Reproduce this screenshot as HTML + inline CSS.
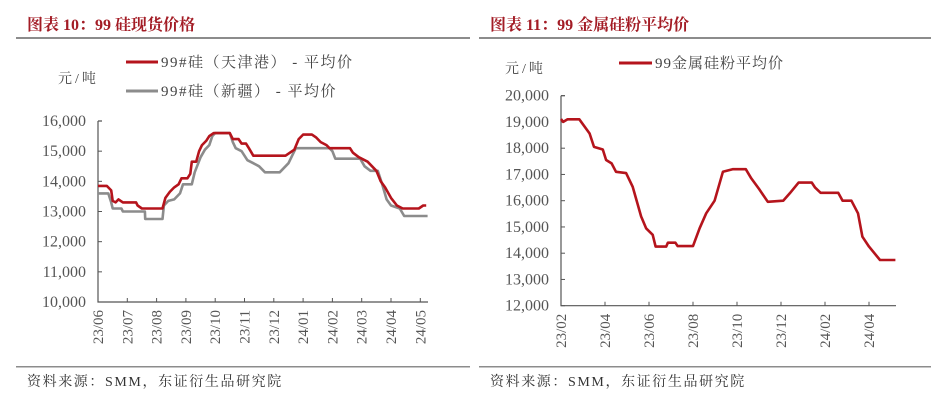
<!DOCTYPE html>
<html><head><meta charset="utf-8">
<style>
html,body{margin:0;padding:0;background:#fff;}
svg{display:block;font-family:"Liberation Serif","Noto Serif CJK SC",serif;}
</style></head>
<body>
<svg id="root" width="940" height="402" viewBox="0 0 940 402">
  <g>
    <text x="27" y="30" font-size="16" font-weight="bold" fill="#a31c25">图表 10：99 硅现货价格</text>
    <rect x="16" y="37" width="454" height="2" fill="#8c8c8c"/>
  </g>
  <g>
    <text x="490" y="30" font-size="16" font-weight="bold" fill="#a31c25">图表 11：99 金属硅粉平均价</text>
    <rect x="479" y="37" width="452" height="2" fill="#8c8c8c"/>
  </g>
  <g>
    <line x1="126" y1="62" x2="158" y2="62" stroke="#b5141c" stroke-width="3"/>
    <text x="161" y="67" font-size="15" letter-spacing="1.5" fill="#444">99#硅（天津港） - 平均价</text>
    <line x1="126" y1="91" x2="158" y2="91" stroke="#8c8c8c" stroke-width="3"/>
    <text x="161" y="96" font-size="15" letter-spacing="1.5" fill="#444">99#硅（新疆） - 平均价</text>
    <text x="58" y="83" font-size="14" letter-spacing="3" fill="#444">元/吨</text>
  </g>
  <g>
    <line x1="619" y1="63" x2="652" y2="63" stroke="#b5141c" stroke-width="3"/>
    <text x="655" y="68" font-size="15" letter-spacing="1" fill="#444">99金属硅粉平均价</text>
    <text x="505" y="73" font-size="14" letter-spacing="3" fill="#444">元/吨</text>
  </g>
  <g id="left"></g>
  <g id="right"></g>
  <rect x="16" y="366" width="454" height="1.5" fill="#8c8c8c"/>
  <rect x="479" y="366" width="452" height="1.5" fill="#8c8c8c"/>
  <text x="27" y="386" font-size="14" letter-spacing="1.6" fill="#333">资料来源：SMM，东证衍生品研究院</text>
  <text x="490" y="386" font-size="14" letter-spacing="1.6" fill="#333">资料来源：SMM，东证衍生品研究院</text>
</svg>
<script>
// Left chart data (months since 23/06)
const leftTicks = ["23/06","23/07","23/08","23/09","23/10","23/11","23/12","24/01","24/02","24/03","24/04","24/05"];
const leftYTicks = [10000,11000,12000,13000,14000,15000,16000];
const tianjinM = [0,0.3,0.45,0.5,0.6,0.7,0.85,1.3,1.35,1.5,2.2,2.3,2.45,2.6,2.75,2.85,3.05,3.15,3.2,3.35,3.45,3.55,3.7,3.8,3.95,4.5,4.6,4.8,4.9,5.05,5.15,5.3,6.4,6.55,6.7,6.85,7.0,7.3,7.45,7.6,7.8,7.9,8.6,8.7,8.9,9.2,9.5,9.65,9.8,10.0,10.2,10.4,10.95,11.1,11.2];
const tianjinV = [13850,13850,13700,13350,13300,13400,13300,13300,13200,13100,13100,13450,13650,13800,13900,14100,14100,14250,14650,14650,15000,15200,15350,15500,15600,15600,15400,15400,15250,15250,15100,14850,14850,14950,15050,15400,15550,15550,15450,15300,15200,15100,15100,14950,14800,14650,14350,14000,13800,13450,13200,13100,13100,13200,13200];
const xinjiangM = [0,0.35,0.45,0.5,0.8,0.85,1.6,1.61,2.2,2.25,2.4,2.6,2.8,2.9,3.2,3.3,3.5,3.65,3.8,3.9,4.0,4.5,4.6,4.7,4.9,5.1,5.3,5.5,5.7,6.2,6.3,6.5,6.6,6.75,7.9,8.0,8.1,8.95,9.1,9.3,9.55,9.7,9.85,10.0,10.3,10.45,11.25];
const xinjiangV = [13600,13600,13300,13100,13100,13000,13000,12750,12750,13200,13350,13400,13600,13900,13900,14300,14800,15050,15200,15500,15600,15600,15300,15100,15000,14700,14600,14500,14300,14300,14400,14600,14800,15100,15100,15000,14750,14750,14500,14350,14350,13900,13400,13200,13100,12850,12850];
// Right chart data (months since 23/02)
const rightTicks = ["23/02","23/04","23/06","23/08","23/10","23/12","24/02","24/04"];
const rightYTicks = [12000,13000,14000,15000,16000,17000,18000,19000,20000];
const powderM = [0,0.1,0.3,0.83,1.3,1.5,1.9,2.05,2.3,2.5,2.96,3.26,3.64,3.87,4.17,4.3,4.78,4.86,5.2,5.3,6.0,6.3,6.6,6.98,7.36,7.8,8.4,8.65,9.0,9.4,10.1,10.4,10.8,11.4,11.55,11.8,12.6,12.8,13.2,13.5,13.7,14.0,14.5,15.2];
const powderV = [19110,19000,19100,19100,18560,18050,17950,17550,17420,17100,17050,16530,15400,14950,14700,14250,14250,14400,14400,14270,14270,14950,15520,16000,17100,17200,17200,16850,16450,15960,16000,16280,16690,16690,16500,16300,16300,16000,16000,15520,14630,14250,13740,13740];

const NS="http://www.w3.org/2000/svg";
function mk(parent,tag,attrs){const e=document.createElementNS(NS,tag);for(const k in attrs)e.setAttribute(k,attrs[k]);parent.appendChild(e);return e;}

function drawChart(g, cfg){
  const xs = m => cfg.x0 + cfg.px * m;
  const ys = v => cfg.yBottom - (v - cfg.yMin)/(cfg.yMax-cfg.yMin)*(cfg.yBottom-cfg.yTop);
  const axis = mk(g,'path',{d:`M${cfg.x0} ${cfg.yTop}H${cfg.x0+4}M${cfg.x0} ${cfg.yTop}V${cfg.yBottom}H${cfg.xEnd}`,stroke:'#555',fill:'none','stroke-width':1.2});
  
  
  cfg.yTicks.forEach(v=>{
    const y=ys(v);
    const t=mk(g,'line',{x1:cfg.x0,x2:cfg.x0+4,y1:y,y2:y,stroke:'#555'});
    
    
    const l=mk(g,'text',{x:cfg.x0-12,y:y+5,'font-size':16,fill:'#555','text-anchor':'end'});
    l.textContent=v.toLocaleString('en-US');
    
    
  });
  cfg.xTicks.forEach((lab,i)=>{
    const m=i*cfg.step, x=xs(m);
    if(i>0){const t=mk(g,'line',{x1:x,x2:x,y1:cfg.yBottom,y2:cfg.yBottom-4,stroke:'#555'});
      
      }
    const l=mk(g,'text',{x:0,y:0,'font-size':15,fill:'#555','text-anchor':'end',transform:`translate(${x+5},${cfg.yBottom+8}) rotate(-90)`});
    l.textContent=lab;
    
    
  });
  cfg.series.forEach(s=>{
    const d=s.m.map((m,i)=>(i?'L':'M')+xs(m).toFixed(1)+' '+ys(s.v[i]).toFixed(1)).join('');
    const p=mk(g,'path',{d:d,fill:'none',stroke:s.color,'stroke-width':2.6,'stroke-linejoin':'round'});
    
    
  });
}
drawChart(document.getElementById('left'),{x0:98,px:29.3,step:1,xEnd:428,yTop:121,yBottom:302,yMin:10000,yMax:16000,
  yTicks:leftYTicks,xTicks:leftTicks,
  series:[{m:xinjiangM,v:xinjiangV,color:'#8c8c8c',name:'xinjiang-line'},{m:tianjinM,v:tianjinV,color:'#b5141c',name:'tianjin-line'}]});
drawChart(document.getElementById('right'),{x0:561,px:22,step:2,xEnd:896,yTop:95.7,yBottom:305.7,yMin:12000,yMax:20000,
  yTicks:rightYTicks,xTicks:rightTicks,
  series:[{m:powderM,v:powderV,color:'#b5141c',name:'powder-price-line'}]});
</script>
</body></html>
